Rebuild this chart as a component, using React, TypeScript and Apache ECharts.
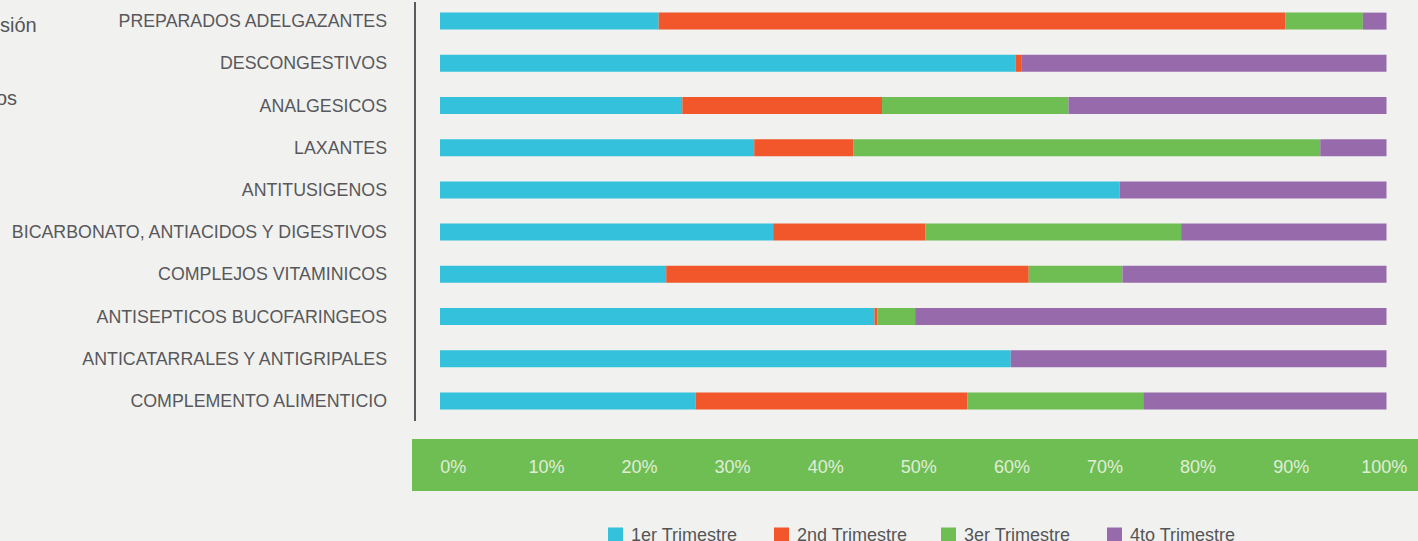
import React, { useEffect, useRef } from "react";
import * as echarts from "echarts";

const categories = [
  "PREPARADOS ADELGAZANTES",
  "DESCONGESTIVOS",
  "ANALGESICOS",
  "LAXANTES",
  "ANTITUSIGENOS",
  "BICARBONATO, ANTIACIDOS Y DIGESTIVOS",
  "COMPLEJOS VITAMINICOS",
  "ANTISEPTICOS BUCOFARINGEOS",
  "ANTICATARRALES Y ANTIGRIPALES",
  "COMPLEMENTO ALIMENTICIO",
];

const seriesNames = ["1er Trimestre", "2nd Trimestre", "3er Trimestre", "4to Trimestre"];

const q1 = [23.1, 60.8, 25.6, 33.2, 71.8, 35.2, 23.9, 45.9, 60.3, 27.0];
const q2 = [66.2, 0.6, 21.1, 10.5, 0, 16.1, 38.3, 0.3, 0, 28.7];
const q3 = [8.2, 0, 19.7, 49.3, 0, 27.0, 9.9, 4.0, 0, 18.6];
const q4 = [2.5, 38.6, 33.6, 7.0, 28.2, 21.7, 27.9, 49.8, 39.7, 25.7];

const colors = ["#33C1DB", "#F1572A", "#6FBE54", "#976AAC"];
const tickValues = [0, 10, 20, 30, 40, 50, 60, 70, 80, 90, 100];

const legendLefts = [608, 774, 941, 1107];

export default function App() {
  const ref = useRef<HTMLDivElement>(null);
  useEffect(() => {
    if (!ref.current) return;
    const chart = echarts.init(ref.current, undefined, { renderer: "svg" });
    const data = [q1, q2, q3, q4];
    const font = "'Liberation Sans', Arial, sans-serif";
    chart.setOption({
      animation: false,
      backgroundColor: "#F1F2EF",
      textStyle: { fontFamily: font },
      grid: [
        { left: 440, right: 31.5, top: -0.6, height: 422.6, containLabel: false },
        { left: 453.3, right: 33.7, top: 0, height: 466.7, containLabel: false },
      ],
      xAxis: [
        {
          type: "value",
          gridIndex: 0,
          min: 0,
          max: 100,
          show: false,
        },
        {
          type: "value",
          gridIndex: 1,
          min: 0,
          max: 100,
          interval: 10,
          z: 10,
          axisLine: { show: false },
          axisTick: { show: false },
          splitLine: { show: false },
          axisLabel: {
            formatter: (v: number) => (tickValues.includes(v) ? v + "%" : ""),
            margin: 0,
            verticalAlign: "middle",
            color: "#E0EDD9",
            fontSize: 18,
            fontFamily: font,
          },
        },
      ],
      yAxis: [
        {
          type: "category",
          gridIndex: 0,
          data: categories,
          inverse: true,
          axisLine: { show: false },
          axisTick: { show: false },
          splitLine: { show: false },
          axisLabel: {
            margin: 53,
            color: "#58585C",
            fontSize: 17.8,
            fontFamily: font,
            padding: [3, 0, 0, 0],
          },
        },
        {
          type: "category",
          gridIndex: 1,
          data: categories,
          show: false,
        },
      ],
      legend: seriesNames.map((n, i) => ({
        data: [n],
        left: legendLefts[i],
        top: 526,
        itemWidth: 15,
        itemHeight: 15,
        icon: "rect",
        padding: 0,
        textStyle: { color: "#555558", fontSize: 18, fontFamily: font, padding: [0, 0, 0, 3] },
      })),
      graphic: [
        {
          type: "rect",
          z: -10,
          shape: { x: 412, y: 439, width: 1006, height: 52 },
          style: { fill: "#6FBE54" },
        },
        {
          type: "line",
          shape: { x1: 415, y1: 2, x2: 415, y2: 421 },
          style: { stroke: "#5A5A60", lineWidth: 2 },
        },
        {
          type: "text",
          x: 0,
          y: 25,
          style: { text: "sión", fill: "#555558", fontSize: 20, fontFamily: font, verticalAlign: "middle" },
        },
        {
          type: "text",
          x: -4,
          y: 98,
          style: { text: "os", fill: "#555558", fontSize: 20, fontFamily: font, verticalAlign: "middle" },
        },
      ],
      series: seriesNames.map((n, i) => ({
        name: n,
        type: "bar",
        stack: "total",
        xAxisIndex: 0,
        yAxisIndex: 0,
        barWidth: 17,
        itemStyle: { color: colors[i] },
        data: data[i],
      })),
    });
    return () => chart.dispose();
  }, []);
  return (
    <div
      ref={ref}
      style={{ position: "fixed", left: 0, top: 0, width: 1418, height: 541 }}
    />
  );
}
